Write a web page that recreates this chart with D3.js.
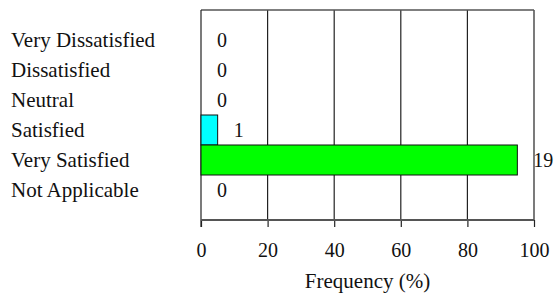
<!DOCTYPE html>
<html>
<head>
<meta charset="utf-8">
<script src="https://cdn.jsdelivr.net/npm/d3@7"></script>
</head>
<body style="margin:0;background:#fff;">
<div id="chart"></div>
<script>
var categories = ["Very Dissatisfied", "Dissatisfied", "Neutral", "Satisfied", "Very Satisfied", "Not Applicable"];
var counts = [0, 0, 0, 1, 19, 0];
var percents = [0, 0, 0, 5, 95, 0];
var colors = ["#00ffff", "#00ffff", "#00ffff", "#00ffff", "#00ff00", "#00ffff"];
var xTicks = [0, 20, 40, 60, 80, 100];

function draw(){
    var w = 554;
    var h = 294;
    var plotLeft = 201, plotRight = 534, plotTop = 10, plotBottom = 220;
    var font = "Liberation Serif";

    var svg = d3.select("#chart")
                .append("svg")
                .attr("width", w)
                .attr("height", h);

    var x = d3.scaleLinear()
                .domain([0, 100])
                .range([plotLeft, plotRight]);

    var y = d3.scaleBand()
                .domain(categories)
                .range([plotTop, plotBottom])
                .paddingInner(0)
                .paddingOuter(0.5);

    // gridlines
    svg.selectAll(null)
        .data(xTicks.slice(1))
        .enter()
        .append("line")
        .attr("x1", function(d){ return x(d); })
        .attr("x2", function(d){ return x(d); })
        .attr("y1", plotTop)
        .attr("y2", plotBottom)
        .attr("stroke", "#222")
        .attr("stroke-width", 1.2);

    // top border
    svg.append("line")
        .attr("x1", plotLeft).attr("x2", plotRight)
        .attr("y1", plotTop).attr("y2", plotTop)
        .attr("stroke", "#555")
        .attr("stroke-width", 1.6);

    // left border
    svg.append("line")
        .attr("x1", plotLeft).attr("x2", plotLeft)
        .attr("y1", plotTop).attr("y2", plotBottom + 7)
        .attr("stroke", "#222")
        .attr("stroke-width", 1.2);

    var data = categories.map(function(c, i){
        return {cat: c, count: counts[i], pct: percents[i], color: colors[i]};
    });

    svg.selectAll(null)
        .data(data.filter(function(d){ return d.pct > 0; }))
        .enter()
        .append("rect")
        .attr("x", x(0))
        .attr("y", function(d){ return y(d.cat); })
        .attr("width", function(d){ return x(d.pct) - x(0); })
        .attr("height", y.bandwidth())
        .attr("fill", function(d){ return d.color; })
        .attr("stroke", "#111")
        .attr("stroke-width", 1);

    // x axis: ticks from d3, labels set with the serif font directly
    var xAxis = d3.axisBottom(x)
                    .tickValues(xTicks)
                    .tickSize(7)
                    .tickPadding(16);

    var ax = svg.append("g")
        .attr("transform", "translate(0," + plotBottom + ")")
        .call(xAxis);
    ax.attr("font-family", null).attr("font-size", null);
    ax.select(".domain").remove();
    ax.selectAll(".tick line").attr("stroke", "#222").attr("stroke-width", 1.2);
    ax.selectAll(".tick text")
        .attr("font-family", font)
        .attr("font-size", 20)
        .attr("fill", "#111");

    svg.append("line")
        .attr("x1", plotLeft).attr("x2", plotRight)
        .attr("y1", plotBottom).attr("y2", plotBottom)
        .attr("stroke", "#555")
        .attr("stroke-width", 2);

    // category labels
    svg.selectAll(null)
        .data(data)
        .enter()
        .append("text")
        .attr("x", 11)
        .attr("y", function(d){ return y(d.cat) + y.bandwidth() / 2 + 7; })
        .attr("font-family", font)
        .attr("font-size", 21)
        .attr("fill", "#111")
        .text(function(d){ return d.cat; });

    // value labels
    svg.selectAll(null)
        .data(data)
        .enter()
        .append("text")
        .attr("x", function(d){ return x(d.pct) + 16; })
        .attr("y", function(d){ return y(d.cat) + y.bandwidth() / 2 + 7; })
        .attr("font-family", font)
        .attr("font-size", 20)
        .attr("fill", "#111")
        .text(function(d){ return d.count; });

    svg.append("text")
        .attr("x", (plotLeft + plotRight) / 2)
        .attr("y", 288)
        .attr("text-anchor", "middle")
        .attr("font-family", font)
        .attr("font-size", 21)
        .attr("fill", "#111")
        .text("Frequency (%)");
}
draw();
</script>
</body>
</html>
